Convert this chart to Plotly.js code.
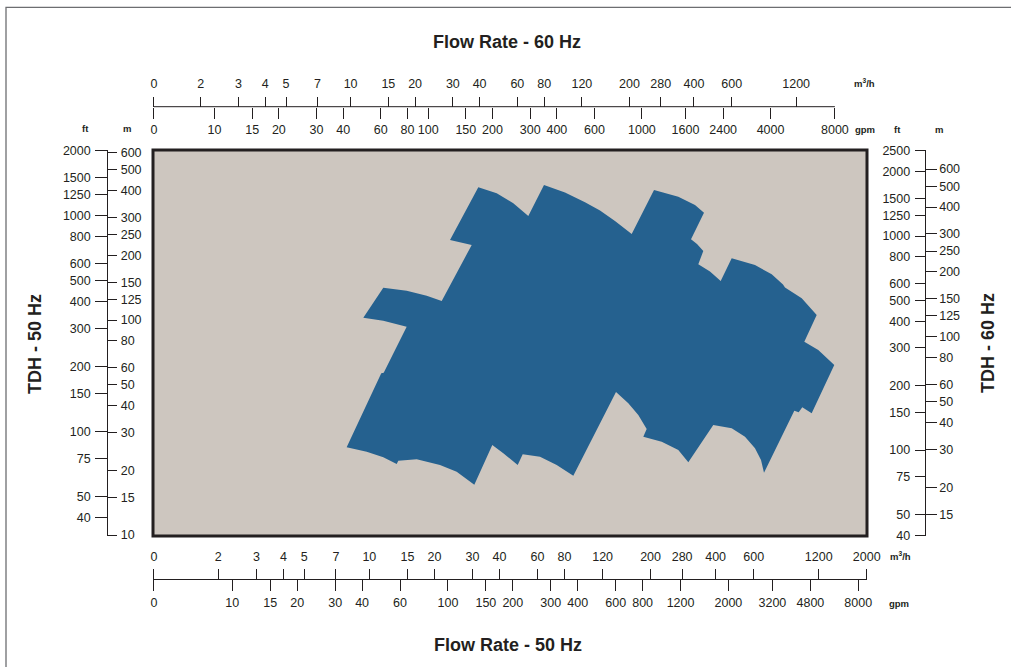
<!DOCTYPE html>
<html><head><meta charset="utf-8">
<script src="https://cdn.plot.ly/plotly-3.0.1.min.js"></script>
<style>html,body{margin:0;padding:0;background:#fff}#chart{width:1011px;height:667px}</style>
</head><body><div id="chart"></div>
<script>
// ---- Data: outline of the combined pump range (50 Hz): flow in m3/h, head in m ----
const flowM3h = [7.85, 9.72, 11.6, 13.38, 13.61, 16.56, 21.22, 25.35, 30.59, 37.05, 41.66, 48.57, 51.22, 61.59, 73.57, 87.82,
  138.4, 157.8, 175.5, 190.5, 191.9, 185.1, 225.2, 268.8, 299.0, 390.2, 474.7, 547.0, 608.4, 648.7, 669.7,
  924.9, 969.3, 1007, 1113, 1416, 1194, 1029, 1174, 1001, 837.6, 820.0, 727.0, 608.4, 474.7,
  422.2, 376.7, 332.6, 350.8, 328.0, 307.7, 353.4, 321.1, 268.8, 207.5, 163.6, 136.9, 116.7, 99.47, 80.38, 64.27,
  54.37, 46.34, 38.83, 31.92, 23.61, 29.75, 21.61, 18.42, 14.88, 11.6, 9.374, 11.6, 14.88, 11.65, 11.35];
const headM = [25.58, 24.40, 22.98, 21.39, 22.16, 22.50, 21.16, 19.70, 17.14, 26.22, 23.99, 21.16, 23.73, 23.13, 21.16, 18.87,
  46.25, 40.98, 36.15, 31.90, 31.12, 28.66, 27.16, 24.85, 21.78, 32.48, 31.35, 28.66, 25.31, 22.33, 19.49,
  37.86, 37.21, 39.26, 36.82, 61.76, 72.52, 79.26, 105.5, 126.2, 141.6, 146.3, 163.1, 180.2, 193.6,
  151.9, 168.1, 181.6, 209.4, 225.7, 237.3, 315.6, 342.7, 374.5, 402.4, 251.2, 288.7, 323.1, 352.7, 391.8, 424.5,
  304.6, 349.0, 388.4, 414.2, 235.6, 223.3, 122.6, 129.7, 136.9, 141.3, 102.5, 99.25, 93.08, 56.87, 56.51];

// ---- Tick labels ----
const m3hTicks50 = [2, 3, 4, 5, 7, 10, 15, 20, 30, 40, 60, 80, 120, 200, 280, 400, 600, 1200, 2000];
const gpmTicks50 = [10, 15, 20, 30, 40, 60, 100, 150, 200, 300, 400, 600, 800, 1200, 2000, 3200, 4800, 8000];
const m3hTicks60 = [2, 3, 4, 5, 7, 10, 15, 20, 30, 40, 60, 80, 120, 200, 280, 400, 600, 1200];
const gpmTicks60 = [10, 15, 20, 30, 40, 60, 80, 100, 150, 200, 300, 400, 600, 1000, 1600, 2400, 4000, 8000];
const ftTicks50 = [40, 50, 75, 100, 150, 200, 300, 400, 500, 600, 800, 1000, 1250, 1500, 2000];
const mTicks50 = [10, 15, 20, 30, 40, 50, 60, 80, 100, 125, 150, 200, 250, 300, 400, 500, 600];
const ftTicks60 = [40, 50, 75, 100, 150, 200, 300, 400, 500, 600, 800, 1000, 1250, 1500, 2000, 2500];
const mTicks60 = [15, 20, 30, 40, 50, 60, 80, 100, 125, 150, 200, 250, 300, 400, 500, 600];

// ---- Layout geometry ----
const W = 1011, H = 667;
const xPx = [153, 867], yPx = [150, 536];
const FONT = '"Liberation Sans", Arial, sans-serif';
const INK = '#231f20';
function xr(a, b) { return [(xPx[0] - a) / b, (xPx[1] - a) / b]; }
function yr(A, B) { return [(A - yPx[1]) / B, (A - yPx[0]) / B]; }
const rx1 = xr(153.24, 216.13), rx3 = xr(16.7, 215.6), rx4 = xr(136.3, 214.3), rx5 = xr(0.8, 213.7);
const ry1 = yr(750, 215), ry2 = yr(863.7, 216), ry4 = yr(878, 214), ry5 = yr(767.8, 215.5);
const zero = r => Math.pow(10, r[0] + 0.004);
const str = a => a.map(String);

function ax(extra) {
  return Object.assign({
    type: 'log', showgrid: false, zeroline: false, showline: true, linecolor: INK, linewidth: 1,
    ticks: 'outside', tickcolor: INK, tickwidth: 1, tickmode: 'array', tickangle: 0,
    tickfont: { family: FONT, size: 12.5, color: INK }, fixedrange: true
  }, extra);
}
const botY = (H - 579.3) / H, topY = (H - 106.7) / H, leftX = 106.7 / W, rightX = 924.7 / W;

const layout = {
  width: W, height: H, margin: { l: 0, r: 0, t: 0, b: 0 },
  paper_bgcolor: '#ffffff', plot_bgcolor: '#cdc6bf', showlegend: false, hovermode: false,
  xaxis: { type: 'log', domain: [xPx[0] / W, xPx[1] / W], range: rx1, showgrid: false, zeroline: false,
    showticklabels: false, ticks: '', showline: false, fixedrange: true },
  yaxis: { type: 'log', domain: [(H - yPx[1]) / H, (H - yPx[0]) / H], range: ry1, showgrid: false, zeroline: false,
    showticklabels: false, ticks: '', showline: false, fixedrange: true },
  xaxis2: ax({ overlaying: 'x', anchor: 'free', position: botY, side: 'top', ticklen: 10, range: rx1, ticklabelstandoff: 3,
    tickvals: [zero(rx1)].concat(m3hTicks50), ticktext: ['0'].concat(str(m3hTicks50)) }),
  xaxis3: ax({ overlaying: 'x', anchor: 'free', position: botY, side: 'bottom', ticklen: 11, range: rx3, ticklabelstandoff: 1,
    tickvals: [zero(rx3)].concat(gpmTicks50), ticktext: ['0'].concat(str(gpmTicks50)) }),
  xaxis4: ax({ overlaying: 'x', anchor: 'free', position: topY, side: 'top', ticklen: 10, range: rx4, showline: false,
    ticklabelstandoff: 4,
    tickvals: [zero(rx4)].concat(m3hTicks60), ticktext: ['0'].concat(str(m3hTicks60)) }),
  xaxis5: ax({ overlaying: 'x', anchor: 'free', position: topY, side: 'bottom', ticklen: 11, range: rx5, showline: false,
    tickvals: [zero(rx5)].concat(gpmTicks60), ticktext: ['0'].concat(str(gpmTicks60)) }),
  yaxis2: ax({ overlaying: 'y', anchor: 'free', position: leftX, side: 'left', ticklen: 11.5, range: ry2,
    ticklabelstandoff: 2, tickvals: ftTicks50, ticktext: str(ftTicks50) }),
  yaxis3: ax({ overlaying: 'y', anchor: 'free', position: leftX, side: 'right', ticklen: 9.5, range: ry1,
    ticklabelstandoff: 1, tickvals: mTicks50, ticktext: str(mTicks50) }),
  yaxis4: ax({ overlaying: 'y', anchor: 'free', position: rightX, side: 'left', ticklen: 10, range: ry4,
    ticklabelstandoff: 2, tickvals: ftTicks60, ticktext: str(ftTicks60) }),
  yaxis5: ax({ overlaying: 'y', anchor: 'free', position: rightX, side: 'right', ticklen: 11, range: ry5,
    tickvals: mTicks60, ticktext: str(mTicks60) }),
  title: { text: 'Flow Rate - 60 Hz', x: 507 / W, xanchor: 'center', y: 1 - 41.5 / H, yanchor: 'middle',
    font: { family: FONT, size: 18, color: INK, weight: 'bold' } },
  shapes: [
    { type: 'rect', xref: 'paper', yref: 'paper', x0: 6 / W, x1: 1.2, y0: -0.1, y1: 1 - 7.3 / H,
      line: { color: '#6d6e71', width: 1.3 }, layer: 'below' },
    { type: 'rect', xref: 'x domain', yref: 'y domain', x0: 0, x1: 1, y0: 0, y1: 1,
      line: { color: INK, width: 3 }, layer: 'above' },
    { type: 'line', xref: 'x5', yref: 'paper', x0: zero(rx5), x1: 8000, y0: topY, y1: topY,
      line: { color: INK, width: 1 } }
  ],
  annotations: []
};
function note(text, px, py, size, extra) {
  layout.annotations.push(Object.assign({ text: '<b>' + text + '</b>', xref: 'paper', yref: 'paper',
    x: px / W, y: 1 - py / H, xanchor: 'center', yanchor: 'middle', showarrow: false,
    font: { family: FONT, size: size, color: INK } }, extra || {}));
}
note('Flow Rate - 50 Hz', 508, 645, 18);
note('TDH - 50 Hz', 35, 344, 18, { textangle: -90 });
note('TDH - 60 Hz', 988, 343, 18, { textangle: -90 });
note('ft', 85.7, 128.5, 9.5); note('m', 126.7, 128.5, 9.5);
note('m<sup>3</sup>/h', 864.5, 82.7, 9.5); note('gpm', 865, 129.5, 9.5);
note('ft', 897.3, 129.5, 9.5); note('m', 939, 129.5, 9.5);
note('m<sup>3</sup>/h', 900, 556, 9.5); note('gpm', 899, 603, 9.5);

const data = [{
  type: 'scatter', mode: 'lines', x: flowM3h, y: headM, fill: 'toself', fillcolor: '#25618f',
  line: { width: 0, color: '#25618f' }, hoverinfo: 'skip', xaxis: 'x', yaxis: 'y'
}];
// empty traces so that every scale axis is drawn
[['x2', 'y'], ['x3', 'y'], ['x4', 'y'], ['x5', 'y'], ['x', 'y2'], ['x', 'y3'], ['x', 'y4'], ['x', 'y5']].forEach(p => {
  data.push({ type: 'scatter', mode: 'lines', x: [null], y: [null], xaxis: p[0], yaxis: p[1], hoverinfo: 'skip' });
});
Plotly.newPlot('chart', data, layout, { displayModeBar: false, staticPlot: true });
</script></body></html>
